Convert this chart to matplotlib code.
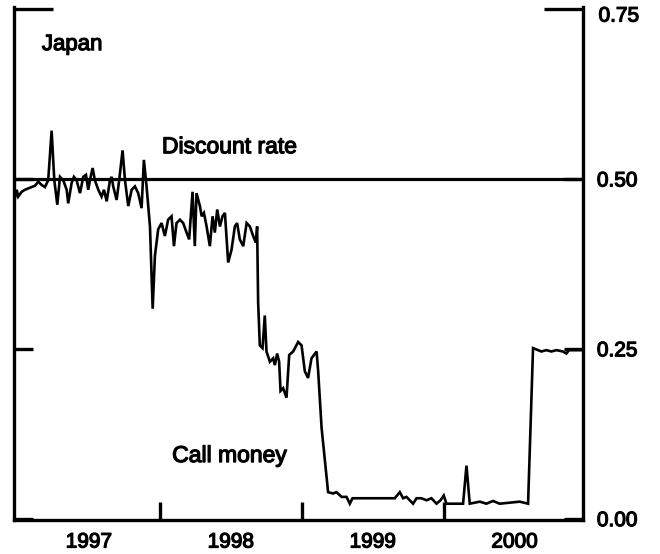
import matplotlib
matplotlib.use('Agg')
import matplotlib.pyplot as plt
import matplotlib.patheffects as pe
from matplotlib.transforms import blended_transform_factory, ScaledTranslation

plt.rcParams['font.family'] = ['Liberation Sans', 'DejaVu Sans']

# Call money rate (percent), dates as fractional years
call_dates = [
    1996.979, 1996.991, 1997.002, 1997.026, 1997.049, 1997.072, 1997.096, 1997.120,
    1997.143, 1997.167, 1997.190, 1997.213, 1997.237, 1997.256, 1997.277, 1997.296,
    1997.319, 1997.343, 1997.354, 1997.378, 1997.394, 1997.413, 1997.437, 1997.460,
    1997.479, 1997.495, 1997.512, 1997.526, 1997.542, 1997.566, 1997.589, 1997.606,
    1997.625, 1997.648, 1997.660, 1997.671, 1997.695, 1997.713, 1997.737, 1997.754,
    1997.777, 1997.801, 1997.824, 1997.847, 1997.871, 1997.887, 1997.906, 1997.930,
    1997.949, 1997.965, 1997.988, 1998.012, 1998.035, 1998.058, 1998.082, 1998.099,
    1998.117, 1998.141, 1998.164, 1998.188, 1998.206, 1998.230, 1998.246, 1998.258,
    1998.282, 1998.294, 1998.310, 1998.329, 1998.352, 1998.371, 1998.387, 1998.404,
    1998.423, 1998.441, 1998.458, 1998.481, 1998.505, 1998.528, 1998.544, 1998.563,
    1998.587, 1998.611, 1998.634, 1998.657, 1998.676, 1998.685, 1998.692, 1998.704,
    1998.723, 1998.739, 1998.751, 1998.775, 1998.798, 1998.810, 1998.826, 1998.840,
    1998.850, 1998.868, 1998.892, 1998.911, 1998.939, 1998.974, 1998.998, 1999.021,
    1999.044, 1999.068, 1999.104, 1999.115, 1999.139, 1999.185, 1999.220, 1999.244,
    1999.280, 1999.315, 1999.338, 1999.357, 1999.655, 1999.690, 1999.714, 1999.737,
    1999.761, 1999.784, 1999.808, 1999.843, 1999.878, 1999.913, 1999.949, 1999.977,
    2000.000, 2000.019, 2000.136, 2000.160, 2000.183, 2000.254, 2000.300, 2000.347,
    2000.394, 2000.535, 2000.594, 2000.629, 2000.664, 2000.688, 2000.723, 2000.758,
    2000.794, 2000.840, 2000.864, 2000.882, 2000.981,
]
call_rates = [
    0.472, 0.484, 0.474, 0.481, 0.484, 0.486, 0.488, 0.490,
    0.496, 0.491, 0.488, 0.498, 0.571, 0.498, 0.462, 0.503,
    0.498, 0.484, 0.464, 0.494, 0.503, 0.498, 0.479, 0.503,
    0.506, 0.484, 0.503, 0.516, 0.498, 0.484, 0.474, 0.484,
    0.467, 0.498, 0.503, 0.489, 0.469, 0.498, 0.542, 0.498,
    0.460, 0.484, 0.489, 0.479, 0.457, 0.528, 0.489, 0.430,
    0.309, 0.387, 0.426, 0.435, 0.416, 0.440, 0.445, 0.401,
    0.435, 0.440, 0.435, 0.421, 0.411, 0.481, 0.401, 0.479,
    0.460, 0.445, 0.450, 0.430, 0.401, 0.445, 0.421, 0.455,
    0.430, 0.445, 0.450, 0.377, 0.396, 0.430, 0.435, 0.411,
    0.401, 0.435, 0.430, 0.416, 0.406, 0.430, 0.319, 0.255,
    0.251, 0.299, 0.246, 0.231, 0.236, 0.226, 0.243, 0.231,
    0.188, 0.192, 0.178, 0.241, 0.246, 0.260, 0.255, 0.217,
    0.207, 0.236, 0.246, 0.217, 0.134, 0.039, 0.037, 0.039,
    0.032, 0.032, 0.022, 0.030, 0.030, 0.039, 0.030, 0.032,
    0.027, 0.022, 0.030, 0.030, 0.027, 0.030, 0.022, 0.027,
    0.034, 0.022, 0.022, 0.078, 0.022, 0.025, 0.022, 0.026,
    0.022, 0.025, 0.022, 0.251, 0.248, 0.246, 0.248, 0.246,
    0.248, 0.246, 0.243, 0.248, 0.248,
]
discount_rate = 0.50

year_labels = ['1997', '1998', '1999', '2000']
year_label_positions = [1997.5, 1998.5, 1999.5, 2000.5]
year_boundaries = [1998, 1999, 2000]
ytick_values = [0.0, 0.25, 0.50]
ytick_labels = ['0.00', '0.25', '0.50']
ytick_top = 0.75
ytick_top_label = '0.75'

W, H = 660, 554
fig = plt.figure(figsize=(W / 100, H / 100), dpi=100)
ax = fig.add_axes([14 / W, 1 - 520 / H, (583 - 14) / W, (520 - 7) / H])

ink = [pe.withStroke(linewidth=0.9, foreground='black')]

ax.plot(call_dates, call_rates, color='black', lw=1.9, solid_joinstyle='miter')
ax.axhline(discount_rate, color='black', lw=2.3)

ax.set_xlim(1996.972, 2000.981)
ax.set_ylim(-0.002, 0.753)

for s in ['left', 'right', 'bottom']:
    ax.spines[s].set_linewidth(2.4)
ax.spines['top'].set_visible(False)

# x ticks: year separators (inward), labels centered on each year
ax.set_xticks(year_boundaries)
ax.set_xticklabels([])
ax.set_xticks(year_label_positions, minor=True)
ax.set_xticklabels(year_labels, minor=True, fontsize=15)
ax.tick_params(axis='x', which='major', direction='in', length=13, width=2.4)
ax.tick_params(axis='x', which='minor', length=0, pad=9)

# y ticks
ax.set_yticks(ytick_values)
ax.set_yticklabels(ytick_labels)
ax.set_yticks([ytick_top], minor=True)
ax.set_yticklabels([''], minor=True)
ax.tick_params(axis='y', which='both', direction='in', left=True, right=True,
               labelleft=False, labelright=True, width=2.4, labelsize=15, pad=10)
ax.tick_params(axis='y', which='major', length=14)
ax.tick_params(axis='y', which='minor', length=28)

trans_top = blended_transform_factory(ax.transAxes, ax.transData) + \
    ScaledTranslation(10 / 72 + 1.2 / 72, -7 / 100, fig.dpi_scale_trans)
ax.text(1.0, ytick_top, ytick_top_label, transform=trans_top, fontsize=15,
        ha='left', va='center', path_effects=ink)

for lab in ax.get_xticklabels(minor=True) + ax.get_yticklabels():
    lab.set_path_effects(ink)

ax.text(0.049, 0.916, 'Japan', transform=ax.transAxes, fontsize=16, va='baseline',
        path_effects=ink)
ax.text(0.260, 0.715, 'Discount rate', transform=ax.transAxes, fontsize=16.5,
        va='baseline', path_effects=ink)
ax.text(0.278, 0.113, 'Call money', transform=ax.transAxes, fontsize=16.5,
        va='baseline', path_effects=ink)

fig.savefig('out.png', dpi=100)
